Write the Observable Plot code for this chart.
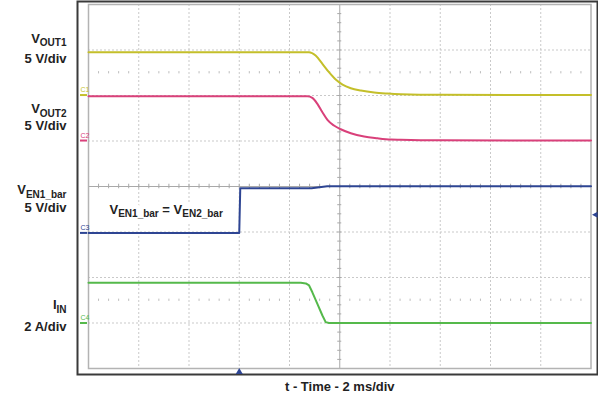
<!DOCTYPE html>
<html>
<head>
<meta charset="utf-8">
<script src="https://cdn.jsdelivr.net/npm/d3@7"></script>
<script src="https://cdn.jsdelivr.net/npm/@observablehq/plot@0.6"></script>
<style>
  html, body { margin: 0; padding: 0; background: #fff; }
  svg { display: block; }
</style>
</head>
<body>
<div id="chart"></div>
<script>
// ---------- data (read off the scope capture) ----------
// time in ms (2 ms/div, 10 divisions)
const vout1T = [0, 8.78, 9.04, 9.31, 9.57, 9.84, 10.11, 10.44, 10.84, 11.37, 11.90, 12.43, 14, 20];
const vout1V = [4.70, 4.70, 4.34, 3.43, 2.51, 1.70, 1.15, 0.75, 0.49, 0.27, 0.16, 0.09, 0.02, 0];

const vout2T = [0, 8.71, 8.91, 9.11, 9.31, 9.51, 9.77, 10.04, 10.44, 10.97, 11.50, 12.03, 12.43, 14, 20];
const vout2V = [4.87, 4.87, 4.69, 4.03, 3.11, 2.27, 1.65, 1.24, 0.80, 0.44, 0.25, 0.11, 0.08, 0.02, 0];

const venT = [0, 6.0, 6.04, 8.88, 9.5, 20];
const venV = [0, 0, 4.91, 4.91, 5.13, 5.13];

const iinT = [0, 8.45, 8.65, 8.78, 8.91, 9.11, 9.31, 9.44, 9.57, 20];
const iinA = [1.77, 1.77, 1.74, 1.65, 1.35, 0.84, 0.33, 0.04, 0, 0];

// scope channel settings
const channelNames = ["C1", "C2", "C3", "C4"];
const channelLabels = ["V_{OUT1}", "V_{OUT2}", "V_{EN1_bar}", "I_{IN}"];
const channelScales = ["5 V/div", "5 V/div", "5 V/div", "2 A/div"];
const unitsPerDiv = [5, 5, 5, 2];
const channelOffsets = [2.01, 1.01, -1.02, -3.0];   // ground marker, in divisions
const trigTime = 6.0;      // ms
const trigLevel = 2.0;     // V on C3
const annotation = "V_{EN1_bar} = V_{EN2_bar}";
const xLabel = "t - Time - 2 ms/div";
const xDivs = d3.range(0, 20.001, 2);   // ms grid
const yDivs = d3.range(-4, 4.001, 1);   // division grid

// ---------- styles / layout ----------
const colors = ["#c4bf2a", "#d9407a", "#2e4593", "#55b94b"];
const W = 598, H = 395;
const mL = 88, mR = 7.5, mT = 4, mB = 27;
const plotW = W - mL - mR;
const nameBaselines = [42, 112.5, 193.5, 308.5];
const scaleBaselines = [62.5, 129, 211, 330];
const font = "'Liberation Sans', Arial, Helvetica, sans-serif";

const series = [
  [vout1T, vout1V], [vout2T, vout2V], [venT, venV], [iinT, iinA]
];
const curves = ["monotone-x", "monotone-x", "linear", "linear"];
const toDiv = (ch, v) => channelOffsets[ch] + v / unitsPerDiv[ch];

const marks = [];
// grid
marks.push(Plot.ruleX(xDivs.filter(d => d > 0 && d < 20 && d !== 10), {stroke: "#c9c9c9", strokeDasharray: "2,2", strokeWidth: 1}));
marks.push(Plot.ruleY(yDivs.filter(d => d > -4 && d < 4 && d !== 0), {stroke: "#c9c9c9", strokeDasharray: "2,2", strokeWidth: 1}));
// dotted sub-rows at +/- 2.5 div
const subX = d3.range(0.4, 20, 0.4).filter(d => Math.abs(d / 2 - Math.round(d / 2)) > 0.01);
for (const r of [2.5, -2.5]) {
  marks.push(Plot.ruleX(subX, {y1: r - 0.025, y2: r + 0.025, stroke: "#bdbdbd", strokeWidth: 1}));
}
// center axes with minor ticks
marks.push(Plot.ruleX([10], {stroke: "#a9a9a9", strokeWidth: 1}));
marks.push(Plot.ruleY([0], {stroke: "#a9a9a9", strokeWidth: 1}));
marks.push(Plot.ruleX(d3.range(0.4, 20, 0.4), {y1: -0.05, y2: 0.05, stroke: "#a9a9a9", strokeWidth: 1}));
marks.push(Plot.ruleY(d3.range(-3.8, 4, 0.2), {x1: 10 - 0.08, x2: 10 + 0.08, stroke: "#a9a9a9", strokeWidth: 1}));
// inner border and outer frame
marks.push(Plot.frame({stroke: "#b3b3b3", strokeWidth: 1.5}));
marks.push(Plot.frame({stroke: "#3a3a3a", strokeWidth: 2, insetLeft: -11, insetTop: -3, insetRight: -6.5, insetBottom: -6}));

// traces
series.forEach(([t, v], ch) => {
  marks.push(Plot.line(t.map((d, i) => i), {
    x: i => t[i], y: i => toDiv(ch, v[i]),
    stroke: colors[ch], strokeWidth: 2, curve: curves[ch]
  }));
});

// channel ground markers and tags
channelNames.forEach((name, ch) => {
  marks.push(Plot.ruleY([channelOffsets[ch]], {stroke: colors[ch], strokeWidth: 2, insetLeft: -8, insetRight: plotW + 1}));
  marks.push(Plot.text([name], {text: d => d, frameAnchor: "left", y: () => channelOffsets[ch], dx: -8, dy: -3, textAnchor: "start", lineAnchor: "bottom", fontSize: 7, fill: colors[ch], fontFamily: font}));
});

// left labels
channelLabels.forEach((lab, ch) => {
  marks.push(Plot.text([lab], {text: d => d, frameAnchor: "top-left", dx: -22, dy: nameBaselines[ch] - mT, textAnchor: "end", lineAnchor: "bottom", fontSize: 13, fontWeight: "bold", fill: "#222", fontFamily: font}));
  marks.push(Plot.text([channelScales[ch]], {text: d => d, frameAnchor: "top-left", dx: -22, dy: scaleBaselines[ch] - mT, textAnchor: "end", lineAnchor: "bottom", fontSize: 13, fontWeight: "bold", fill: "#222", fontFamily: font}));
});

// annotation: a white halo layer first, then the text on top
const annOpts = {text: d => d, frameAnchor: "top-left", dx: 21, dy: 213 - mT, textAnchor: "start", lineAnchor: "bottom", fontSize: 13, fontWeight: "bold", fontFamily: font};
marks.push(Plot.text([annotation], {...annOpts, fill: "white", stroke: "white", strokeWidth: 10}));
marks.push(Plot.text([annotation], {...annOpts, fill: "#222"}));

// trigger markers
marks.push(Plot.dot([trigTime], {x: d => d, frameAnchor: "bottom", dy: 3.5, symbol: "triangle", r: 2.6, fill: colors[2], stroke: "none"}));
const leftTri = { draw(ctx) { ctx.moveTo(-3, 0); ctx.lineTo(2.5, -3); ctx.lineTo(2.5, 3); ctx.closePath(); } };
marks.push(Plot.dot([trigLevel], {y: d => toDiv(2, d), frameAnchor: "right", dx: 4, symbol: leftTri, r: 3, fill: colors[2], stroke: "none"}));

// x label
marks.push(Plot.text([xLabel], {text: d => d, frameAnchor: "bottom", dy: 390 - (H - mB), lineAnchor: "bottom", fontSize: 13, fontWeight: "bold", fill: "#222", fontFamily: font}));

const svg = Plot.plot({
  width: W, height: H,
  marginLeft: mL, marginRight: mR, marginTop: mT, marginBottom: mB,
  x: {domain: [0, 20], axis: null},
  y: {domain: [-4, 4], axis: null},
  style: {fontFamily: font, background: "#fff", overflow: "visible"},
  marks
});

// subscripts: turn "X_{sub}" into tspans
d3.select(svg).selectAll("text").each(function () {
  const s = this.textContent;
  if (!s.includes("_{")) return;
  const parts = s.split(/_\{([^}]*)\}/);
  const el = d3.select(this);
  el.text(null);
  const shift = 3.5;
  let lowered = false;
  parts.forEach((p, i) => {
    if (p === "") return;
    const ts = el.append("tspan").text(p);
    if (i % 2 === 1) {
      ts.attr("font-size", 10);
      if (!lowered) { ts.attr("dy", shift); lowered = true; }
    } else if (lowered) {
      ts.attr("dy", -shift); lowered = false;
    }
  });
});

document.getElementById("chart").appendChild(svg);
</script>
</body>
</html>
